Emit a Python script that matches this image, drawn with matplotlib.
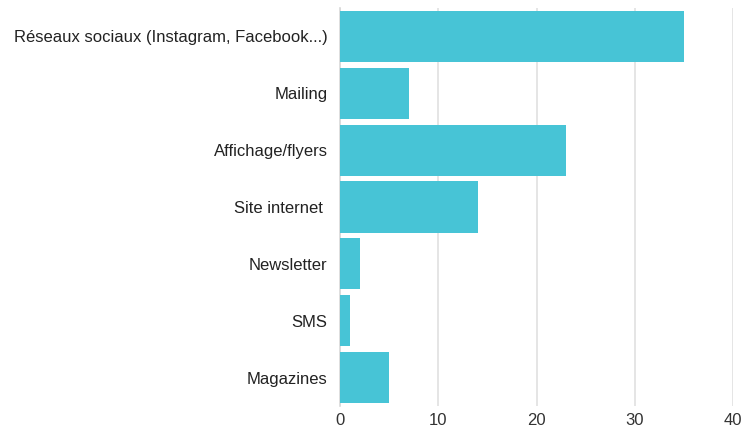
import numpy as np
import matplotlib.pyplot as plt

plt.rcParams['font.family'] = ['Liberation Sans', 'DejaVu Sans']

categories = ["Réseaux sociaux (Instagram, Facebook...)", "Mailing", "Affichage/flyers",
              "Site internet ", "Newsletter", "SMS", "Magazines"]
values = [35, 7, 23, 14, 2, 1, 5]
xticks = [0, 10, 20, 30, 40]

fig = plt.figure(figsize=(7.45, 4.30), dpi=100)
ax = fig.add_axes([340/745, 24/430, 393/745, 398/430])

y = np.arange(len(categories))
ax.barh(y, values, height=0.9, color="#47C4D6", zorder=3)
ax.set_ylim(len(categories) - 0.5, -0.5)
ax.set_xlim(0, 40)
ax.set_yticks(y)
ax.set_yticklabels(categories, fontsize=12, color="#222222")
ax.set_xticks(xticks)
ax.set_xticklabels([str(t) for t in xticks], fontsize=12, color="#333333")
ax.tick_params(axis="x", length=0, pad=5)
ax.tick_params(axis="y", length=0, pad=9)
ax.grid(True, axis="x", color="#e0e0e0", linewidth=1.2, zorder=0)
for s in ["top", "right", "bottom"]:
    ax.spines[s].set_visible(False)
ax.spines["left"].set_color("#d8d8d8")
ax.spines["left"].set_linewidth(1.2)

fig.savefig("out.png", dpi=100)
